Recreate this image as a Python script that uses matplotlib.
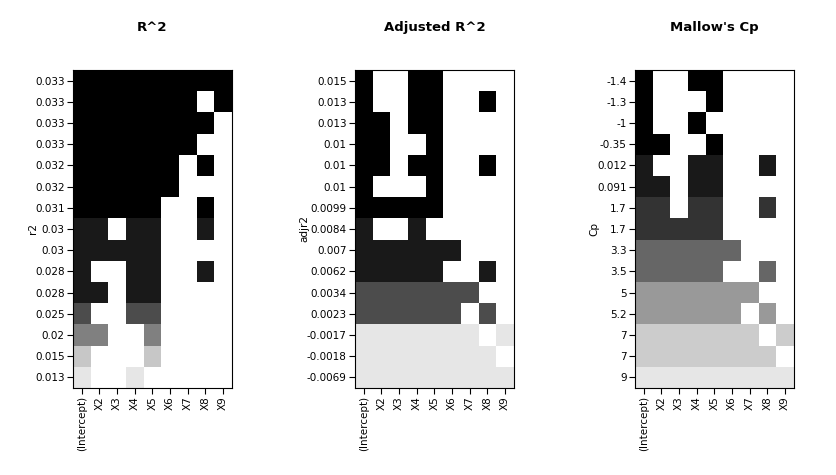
import numpy as np
import matplotlib.pyplot as plt

variables = ["(Intercept)", "X2", "X3", "X4", "X5", "X6", "X7", "X8", "X9"]

# rows listed top to bottom; '1' = variable in model
r2_labels = ["0.033", "0.033", "0.033", "0.033", "0.032", "0.032", "0.031", "0.03",
             "0.03", "0.028", "0.028", "0.025", "0.02", "0.015", "0.013"]
r2_rows = ["111111111", "111111101", "111111110", "111111100", "111111010", "111111000",
           "111110010", "110110010", "111110000", "100110010", "110110000", "100110000",
           "110010000", "100010000", "100100000"]
r2_shade = [0, 0, 0, 0, 0, 0, 0, 0.1, 0.1, 0.1, 0.1, 0.3, 0.5, 0.78, 0.9]

adjr2_labels = ["0.015", "0.013", "0.013", "0.01", "0.01", "0.01", "0.0099", "0.0084",
                "0.007", "0.0062", "0.0034", "0.0023", "-0.0017", "-0.0018", "-0.0069"]
adjr2_rows = ["100110000", "100110010", "110110000", "110010000", "110110010", "100010000",
              "111110000", "100100000", "111111000", "111110010", "111111100", "111111010",
              "111111101", "111111110", "111111111"]
adjr2_shade = [0, 0, 0, 0, 0, 0, 0, 0.1, 0.1, 0.1, 0.3, 0.3, 0.9, 0.9, 0.9]

cp_labels = ["-1.4", "-1.3", "-1", "-0.35", "0.012", "0.091", "1.7", "1.7",
             "3.3", "3.5", "5", "5.2", "7", "7", "9"]
cp_rows = ["100110000", "100010000", "100100000", "110010000", "100110010", "110110000",
           "110110010", "111110000", "111111000", "111110010", "111111100", "111111010",
           "111111101", "111111110", "111111111"]
cp_shade = [0, 0, 0, 0, 0.1, 0.1, 0.2, 0.2, 0.4, 0.4, 0.6, 0.6, 0.8, 0.8, 0.9]

panels = [("R^2", "r2", r2_labels, r2_rows, r2_shade),
          ("Adjusted R^2", "adjr2", adjr2_labels, adjr2_rows, adjr2_shade),
          ("Mallow's Cp", "Cp", cp_labels, cp_rows, cp_shade)]

fig = plt.figure(figsize=(8.37, 4.75), dpi=100)
lefts = [73, 355, 635]
for (title, ylab, labels, rows, shade), left in zip(panels, lefts):
    ax = fig.add_axes([left / 837, 87 / 475, 159 / 837, 318 / 475])
    grid = np.array([[shade[i] if c == "1" else 1.0 for c in r] for i, r in enumerate(rows)])
    grid = grid[::-1]
    ax.pcolormesh(grid, cmap="gray", vmin=0, vmax=1)
    ax.set_xticks(np.arange(len(variables)) + 0.5)
    ax.set_xticklabels(variables, rotation=90, fontsize=7.5)
    ax.set_yticks(np.arange(len(labels)) + 0.5)
    ax.set_yticklabels(labels[::-1], fontsize=7.5)
    ax.set_ylabel(ylab, fontsize=7.5, labelpad=-2)
    ax.set_title(title, fontsize=9.5, fontweight="bold", pad=28)
    ax.tick_params(length=4, pad=2)

plt.savefig("out.png", dpi=100)
